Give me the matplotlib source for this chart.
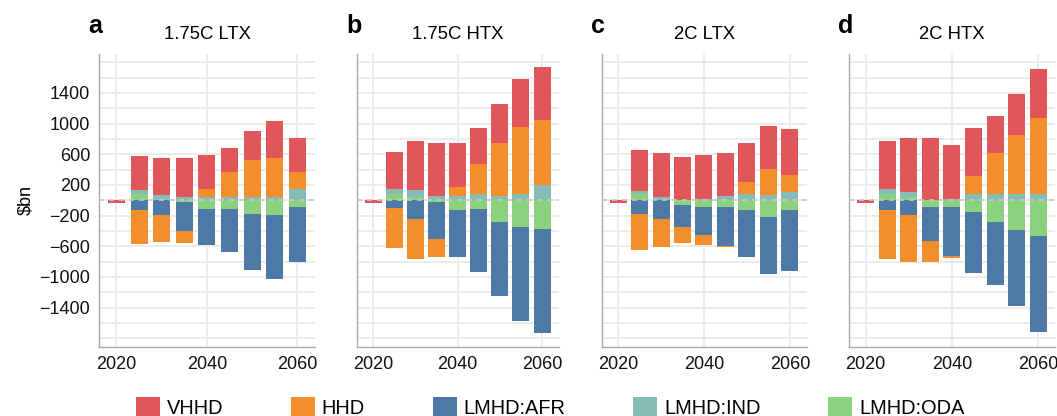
import numpy as np
import matplotlib
matplotlib.use("Agg")
import matplotlib.pyplot as plt
from matplotlib.patches import Patch

plt.rcParams["font.family"] = ["Liberation Sans", "DejaVu Sans"]

years = [2020, 2025, 2030, 2035, 2040, 2045, 2050, 2055, 2060]
categories = ["VHHD", "HHD", "LMHD:AFR", "LMHD:IND", "LMHD:ODA"]
colors = ["#E15759", "#F28E2B", "#4E79A7", "#86BCB6", "#8CD17D"]
titles = ["1.75C LTX", "1.75C HTX", "2C LTX", "2C HTX"]
letters = ["a", "b", "c", "d"]

# $bn per category, one row per year
a_vhhd = [-32, 444, 483, 509, 444, 313, 380, 483, 444]
a_hhd = [0, -444, -352, -157, 104, 326, 483, 509, 222]
a_afr = [0, -130, -196, -378, -470, -564, -720, -835, -719]
a_ind = [0, 52, 65, 39, 40, 40, 40, 40, 144]
a_oda = [0, 78, 0, -26, -118, -115, -183, -196, -91]

b_vhhd = [-32, 483, 640, 692, 575, 470, 509, 626, 692]
b_hhd = [0, -522, -522, -235, 117, 392, 692, 874, 848]
b_afr = [0, -104, -248, -483, -619, -823, -966, -1226, -1358]
b_ind = [0, 65, 91, 52, 52, 78, 52, 78, 196]
b_oda = [0, 78, 39, -26, -125, -117, -287, -352, -378]

c_vhhd = [-32, 535, 574, 561, 574, 561, 509, 561, 600]
c_hhd = [0, -469, -365, -209, -131, -22, 157, 339, 222]
c_afr = [0, -183, -248, -287, -365, -500, -614, -743, -796]
c_ind = [0, 39, 39, 0, 13, 52, 78, 65, 104]
c_oda = [0, 78, 0, -65, -91, -91, -130, -222, -130]

d_vhhd = [-32, 626, 705, 809, 705, 626, 483, 535, 639]
d_hhd = [0, -639, -613, -274, -26, 235, 535, 770, 992]
d_afr = [0, -130, -196, -444, -639, -796, -822, -992, -1253]
d_ind = [0, 65, 65, 0, 13, 78, 78, 78, 78]
d_oda = [0, 78, 39, -91, -91, -157, -287, -392, -470]

panels = [
    [a_vhhd, a_hhd, a_afr, a_ind, a_oda],
    [b_vhhd, b_hhd, b_afr, b_ind, b_oda],
    [c_vhhd, c_hhd, c_afr, c_ind, c_oda],
    [d_vhhd, d_hhd, d_afr, d_ind, d_oda],
]

W, H = 1057, 416
fig = plt.figure(figsize=(W / 100, H / 100), dpi=100)

# axes extents in pixels (left, right)
extents = [(99.3, 315.0), (357.3, 558.5), (601.7, 806.7), (849.3, 1055.0)]
top_px, bot_px = 54.0, 346.5
xlim = (2016.2, 2063.9)

for i, (series, (l, r)) in enumerate(zip(panels, extents)):
    ax = fig.add_axes([l / W, 1 - bot_px / H, (r - l) / W, (bot_px - top_px) / H])
    px_per_year = (r - l) / (xlim[1] - xlim[0])
    width = 17.0 / px_per_year

    pos_base = np.zeros(len(years))
    neg_base = np.zeros(len(years))
    # stack from zero outward: ODA, IND, AFR, HHD, VHHD
    for k in [4, 3, 2, 1, 0]:
        v = np.array(series[k], dtype=float)
        pos = np.where(v > 0, v, 0)
        neg = np.where(v < 0, v, 0)
        ax.bar(years, pos, bottom=pos_base, width=width, color=colors[k], zorder=2)
        ax.bar(years, neg, bottom=neg_base, width=width, color=colors[k], zorder=2)
        pos_base += pos
        neg_base += neg

    ax.axhline(0, color="#c8c8c8", lw=1.2, ls=(0, (3, 3)), zorder=3)

    ax.set_xlim(*xlim)
    ax.set_ylim(-1907, 1907)
    ax.set_xticks([2020, 2040, 2060])
    ax.set_yticks(np.arange(-1800, 1801, 200), minor=True)
    ax.set_yticks([-1400, -1000, -600, -200, 200, 600, 1000, 1400])
    ax.set_yticklabels(["\u22121400", "\u22121000", "\u2212600", "\u2212200",
                        "200", "600", "1000", "1400"])
    ax.grid(True, which="both", axis="y", color="#ececec", lw=1.4, zorder=0)
    ax.grid(True, which="major", axis="x", color="#ececec", lw=1.4, zorder=0)
    ax.set_axisbelow(True)
    ax.tick_params(which="both", length=0, labelsize=13, pad=6.5, colors="#111111")
    for s in ["top", "right"]:
        ax.spines[s].set_visible(False)
    for s in ["left", "bottom"]:
        ax.spines[s].set_color("#aaaaaa")
        ax.spines[s].set_linewidth(1.0)

    if i == 0:
        ax.set_ylabel("$bn", fontsize=13, labelpad=4)
    else:
        ax.tick_params(axis="y", labelleft=False)

    ax.set_title(titles[i], fontsize=13.3, pad=11)
    fig.text((l - 11) / W, 1 - 33 / H, letters[i], fontsize=18,
             fontweight="bold", ha="left", va="baseline")

handles = [Patch(facecolor=c, edgecolor="none") for c in colors]
fig.legend(handles, categories, loc="center left",
           bbox_to_anchor=(136 / W, 1 - 407 / H), ncol=5, frameon=False,
           fontsize=14.4, handlelength=1.2, handleheight=1.2,
           handletextpad=0.33, columnspacing=3.4, borderpad=0, borderaxespad=0)

fig.savefig("out.png", dpi=100)
